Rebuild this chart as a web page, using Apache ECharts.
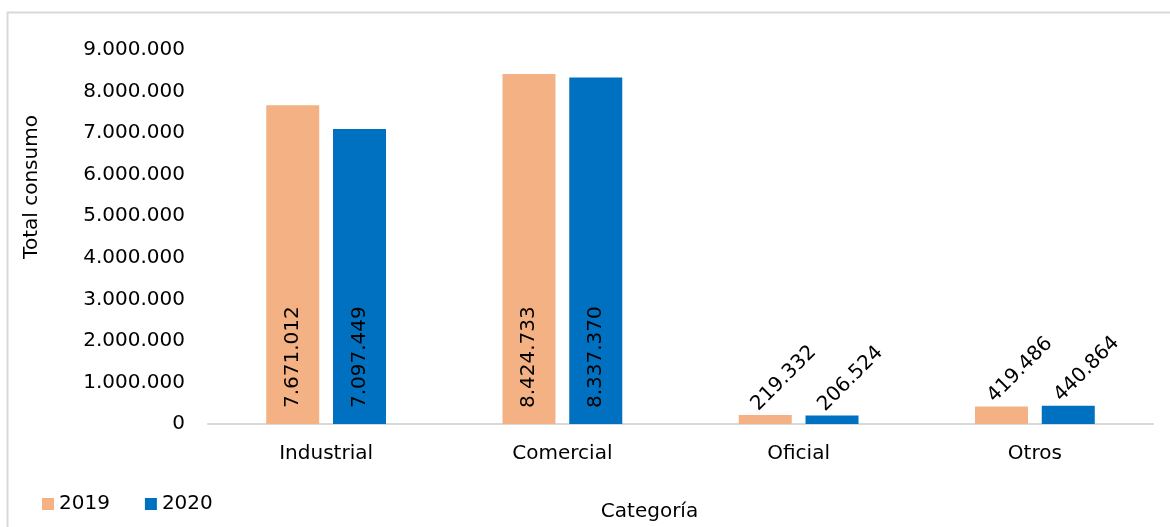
<!DOCTYPE html>
<html><head><meta charset="utf-8">
<script src="https://cdn.jsdelivr.net/npm/echarts@6/dist/echarts.min.js"></script>
<style>html,body{margin:0;padding:0;background:#fff;overflow:hidden}#c{width:1170px;height:527px}</style>
</head><body><div id="c"></div>
<script>
const categories = ['Industrial', 'Comercial', 'Oficial', 'Otros'];
const values2019 = [7671012, 8424733, 219332, 419486];
const values2020 = [7097449, 8337370, 206524, 440864];
const seriesNames = ['2019', '2020'];
const yTicks = {min: 0, max: 9000000, interval: 1000000};

const FONT = 'DejaVu Sans';
const FS = 20;
const fmt = v => String(v).replace(/\B(?=(\d{3})+(?!\d))/g, '.');

function items(vals) {
  return vals.map(v => {
    const big = v > 2000000;
    return {
      value: v,
      label: big ? {
        show: true, position: 'insideBottom', rotate: 90, align: 'left', verticalAlign: 'middle',
        distance: 16, color: '#000', fontSize: FS, fontFamily: FONT, formatter: p => fmt(p.value)
      } : {
        show: true, position: 'top', rotate: 45, align: 'left', verticalAlign: 'middle',
        distance: 18, offset: [-15, 0], color: '#000', fontSize: FS, fontFamily: FONT, formatter: p => fmt(p.value)
      }
    };
  });
}

const chart = echarts.init(document.getElementById('c'), null, {renderer: 'canvas'});
chart.setOption({
  animation: false,
  backgroundColor: '#fff',
  textStyle: {fontFamily: FONT},
  graphic: [{type: 'rect', shape: {x: 7.5, y: 12.5, width: 1300, height: 700}, style: {fill: 'none', stroke: '#d9d9d9', lineWidth: 2}, silent: true}],
  grid: {left: 208, right: 17, top: 50, bottom: 102, containLabel: false},
  legend: {
    data: seriesNames, left: 37, top: 489, padding: 5, icon: 'rect', itemWidth: 12, itemHeight: 12, itemGap: 35,
    textStyle: {fontSize: FS, color: '#000', fontFamily: FONT}
  },
  xAxis: {
    type: 'category', data: categories,
    name: 'Categoría', nameLocation: 'middle', nameGap: 78,
    nameTextStyle: {fontSize: FS, color: '#000', fontFamily: FONT, padding: [0, 62, 0, 0]},
    axisLine: {lineStyle: {color: '#d9d9d9', width: 2}},
    axisTick: {show: false},
    axisLabel: {fontSize: FS, color: '#000', margin: 20, fontFamily: FONT}
  },
  yAxis: {
    type: 'value', min: yTicks.min, max: yTicks.max, interval: yTicks.interval,
    name: 'Total consumo', nameLocation: 'middle', nameGap: 166, nameRotate: 90,
    nameTextStyle: {fontSize: FS, color: '#000', fontFamily: FONT, padding: [0, 0, 0, 100]},
    axisLine: {show: false}, axisTick: {show: false}, splitLine: {show: false},
    axisLabel: {fontSize: FS, color: '#000', margin: 23, fontFamily: FONT, formatter: v => fmt(v)}
  },
  series: [
    {name: seriesNames[0], type: 'bar', data: items(values2019), barWidth: 53, barGap: '26%', itemStyle: {color: '#F4B183'}},
    {name: seriesNames[1], type: 'bar', data: items(values2020), barWidth: 53, barGap: '26%', itemStyle: {color: '#0070C0'}}
  ]
});
</script></body></html>
